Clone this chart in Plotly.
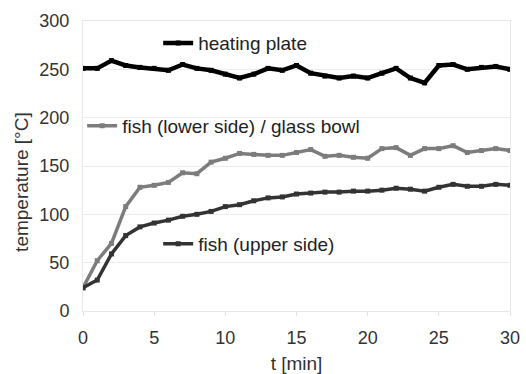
import plotly.graph_objects as go

# time axis in minutes
t_min = list(range(0, 31))

# measured temperatures [°C]
heating_plate = [251, 251, 259, 254, 252, 251, 249, 255, 251, 249, 245, 241, 245, 251, 249, 254,
                 246, 243, 241, 243, 241, 246, 251, 241, 236, 254, 255, 250, 252, 253, 250]
fish_lower = [24, 52, 70, 108, 128, 130, 133, 143, 142, 154, 158, 163, 162, 161, 161, 164,
              167, 160, 161, 159, 158, 168, 169, 161, 168, 168, 171, 164, 166, 168, 166]
fish_upper = [24, 32, 59, 78, 87, 91, 94, 98, 100, 103, 108, 110, 114, 117, 118, 121,
              122, 123, 123, 124, 124, 125, 127, 126, 124, 128, 131, 129, 129, 131, 130]

x_ticks = [0, 5, 10, 15, 20, 25, 30]
y_ticks = [0, 50, 100, 150, 200, 250, 300]

FONT = "Arial, Liberation Sans, Helvetica, sans-serif"

fig = go.Figure()

fig.add_trace(go.Scatter(
    x=t_min, y=heating_plate, name="heating plate", mode="lines+markers",
    line=dict(color="#000000", width=4.5), marker=dict(symbol="square", size=5, color="#000000"),
    legend="legend"))
fig.add_trace(go.Scatter(
    x=t_min, y=fish_lower, name="fish (lower side) / glass bowl", mode="lines+markers",
    line=dict(color="#7c7c7c", width=3.5), marker=dict(symbol="square", size=5, color="#7c7c7c"),
    legend="legend2"))
fig.add_trace(go.Scatter(
    x=t_min, y=fish_upper, name="fish (upper side)", mode="lines+markers",
    line=dict(color="#333333", width=3.5), marker=dict(symbol="square", size=5, color="#333333"),
    legend="legend3"))

legend_style = dict(bgcolor="rgba(0,0,0,0)", borderwidth=0,
                    font=dict(family=FONT, size=19, color="#222222"),
                    xanchor="left", yanchor="middle")

fig.update_layout(
    width=526, height=374,
    margin=dict(l=83, r=16, t=21, b=63),
    paper_bgcolor="white", plot_bgcolor="white",
    font=dict(family=FONT, color="#333333"),
    showlegend=True,
    legend=dict(x=0.176, y=0.924, **legend_style),
    legend2=dict(x=-0.002, y=0.638, **legend_style),
    legend3=dict(x=0.176, y=0.231, **legend_style),
    xaxis=dict(
        range=[0, 30], tickvals=x_ticks, ticktext=[str(v) for v in x_ticks],
        showgrid=False, zeroline=False, automargin=False,
        showline=True, linecolor="#e8e8e8", linewidth=1, mirror=True,
        ticks="outside", ticklen=4, tickcolor="#e0e0e0",
        tickfont=dict(size=18, color="#333333"), ticklabelstandoff=6,
        title=dict(text="t [min]", font=dict(size=19, color="#333333"), standoff=12),
    ),
    yaxis=dict(
        range=[0, 300], tickvals=y_ticks, ticktext=[str(v) for v in y_ticks],
        showgrid=True, gridcolor="#ececec", gridwidth=1, zeroline=False, automargin=False,
        showline=True, linecolor="#e8e8e8", linewidth=1, mirror=True,
        ticks="", tickfont=dict(size=18, color="#333333"), ticklabelstandoff=9,
    ),
    annotations=[dict(
        text="temperature [°C]", textangle=-90, showarrow=False,
        xref="paper", yref="paper", x=-0.143, y=0.445,
        xanchor="center", yanchor="middle",
        font=dict(family=FONT, size=19, color="#333333"),
    )],
)

fig.write_html("out.html")
